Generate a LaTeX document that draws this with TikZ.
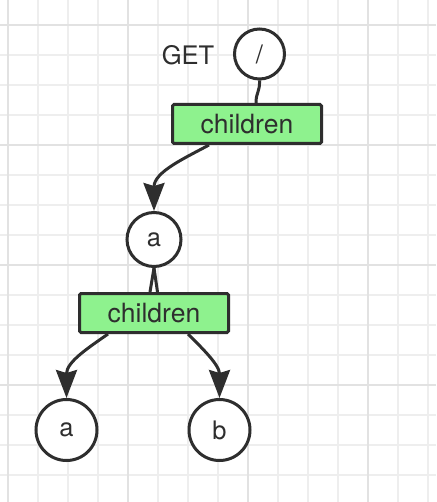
\documentclass[tikz,border=0pt]{standalone}
\usepackage{fontspec}
\setmainfont{TeX Gyre Heros}
\usetikzlibrary{arrows.meta}
\definecolor{gridminor}{HTML}{EEEEEE}
\definecolor{gridmajor}{HTML}{E2E2E2}
\definecolor{ink}{HTML}{2E2E2E}
\definecolor{boxgreen}{HTML}{8EF28E}
\tikzset{
  circnode/.style={circle, draw=ink, line width=3pt, fill=white, inner sep=0pt, text=ink, font=\fontsize{25.5}{30}\selectfont},
  greenbox/.style={rectangle, draw=ink, line width=3pt, fill=boxgreen, rounded corners=1.5pt, minimum width=149pt, minimum height=39pt, inner sep=0pt, text=ink, font=\fontsize{26.5}{30}\selectfont},
  plainlabel/.style={text=ink, inner sep=0pt, font=\fontsize{25.5}{30}\selectfont},
  link/.style={draw=ink, line width=3pt},
  arrowlink/.style={link, -{Stealth[length=28pt, width=21pt, inset=3pt]}},
}
\begin{document}
\begin{tikzpicture}[x=1pt, y=-1pt]
\useasboundingbox (0,0) rectangle (436,502);
\fill[white] (0,0) rectangle (436,502);
% grid
\foreach \gx in {8,38,...,428} \draw[gridminor, line width=1.4pt] (\gx,0) -- (\gx,502);
\foreach \gy in {25,55,...,475} \draw[gridminor, line width=1.4pt] (0,\gy) -- (436,\gy);
\foreach \gx in {8,128,248,368} \draw[gridmajor, line width=1.4pt] (\gx,0) -- (\gx,502);
\foreach \gy in {25,145,265,385} \draw[gridmajor, line width=1.4pt] (0,\gy) -- (436,\gy);
% nodes
\node[circnode, minimum size=50pt] (root) at (259.5,54) {/};
\node[plainlabel] (get) at (188,55) {GET};
\node[greenbox] (box1) at (247,124) {children};
\node[circnode, minimum size=54pt] (a1) at (154,239.5) {a};
\node[greenbox] (box2) at (154,313) {children};
\node[circnode, minimum size=61pt] (a2) at (66.5,430) {a};
\node[circnode, minimum size=61pt] (b) at (219.5,430) {b};
% connectors
\draw[link] (root.south) .. controls (260,92) and (256,92) .. ([xshift=9pt]box1.north);
\draw[arrowlink] ([xshift=-38pt]box1.south) .. controls (185,158) and (154,172) .. (a1.north);
\draw[link] (a1.south) -- ([xshift=-4pt]box2.north);
\draw[link] (a1.south) -- ([xshift=3.5pt]box2.north);
\draw[arrowlink] ([xshift=-46pt]box2.south) .. controls (88,348) and (66.5,362) .. (a2.north);
\draw[arrowlink] ([xshift=34pt]box2.south) .. controls (202,348) and (219.5,365) .. (b.north);
\end{tikzpicture}
\end{document}
